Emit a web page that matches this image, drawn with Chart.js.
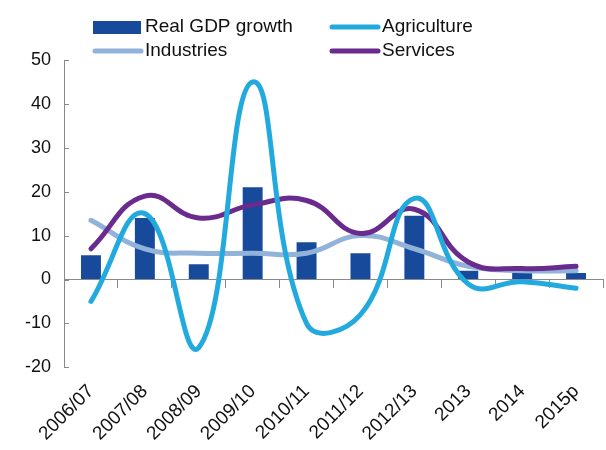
<!DOCTYPE html>
<html>
<head>
<meta charset="utf-8">
<script src="https://cdn.jsdelivr.net/npm/chart.js@4"></script>
<style>
  html, body { margin: 0; padding: 0; background: #fff; }
  #wrap { width: 606px; height: 450px; }
</style>
</head>
<body>
<div id="wrap"><canvas id="gdpChart"></canvas></div>
<script>
const years = ['2006/07', '2007/08', '2008/09', '2009/10', '2010/11', '2011/12', '2012/13', '2013', '2014', '2015p'];
const realGdp = [5.5, 14, 3.5, 21, 8.5, 6, 14.5, 2, 1.5, 1.5];
const agriculture = [-5, 15, -15.5, 45, -10, -8, 18.5, -1, -0.5, -2];
const industries = [13.5, 7, 6, 6, 6, 10, 7, 3, 2, 2];
const services = [7, 19, 14, 17, 18, 10.5, 16, 4, 2.5, 3];
const yTicks = [-20, -10, 0, 10, 20, 30, 40, 50];

const FONT = 'Liberation Sans, Arial, sans-serif';

// two-column legend above the plot
const legendPlugin = {
    id: 'twoColLegend',
    afterDraw(chart) {
        const ctx = chart.ctx;
        const cols = [93, 330];
        const rows = [27, 51];
        ctx.save();
        ctx.font = '19px ' + FONT;
        ctx.textBaseline = 'middle';
        chart.data.datasets.forEach((ds, i) => {
            const x = cols[i % 2];
            const y = rows[Math.floor(i / 2)];
            if (ds.type === 'bar') {
                ctx.fillStyle = ds.backgroundColor;
                ctx.fillRect(x, y - 6, 48, 13);
            } else {
                ctx.strokeStyle = ds.borderColor;
                ctx.lineWidth = 5;
                ctx.lineCap = 'round';
                ctx.beginPath();
                ctx.moveTo(x + 2, y);
                ctx.lineTo(x + 48, y);
                ctx.stroke();
            }
            ctx.fillStyle = '#111';
            ctx.fillText(ds.label, x + 52, y);
        });
        ctx.restore();
    }
};

// short inward tick marks on the value axis
const yTickPlugin = {
    id: 'innerYTicks',
    afterDatasetsDraw(chart) {
        const ctx = chart.ctx;
        const y = chart.scales.y;
        ctx.save();
        ctx.strokeStyle = '#8a8a8a';
        ctx.lineWidth = 1;
        yTicks.forEach(v => {
            const py = Math.round(y.getPixelForValue(v)) + 0.5;
            ctx.beginPath();
            ctx.moveTo(y.right, py);
            ctx.lineTo(y.right + 5, py);
            ctx.stroke();
        });
        ctx.restore();
    }
};

const lineStyle = {
    type: 'line',
    borderWidth: 5,
    pointRadius: 0,
    tension: 0.45,
    borderCapStyle: 'round',
    fill: false
};

new Chart(document.getElementById('gdpChart').getContext('2d'), {
    data: {
        labels: years,
        datasets: [
            { type: 'bar', label: 'Real GDP growth', data: realGdp, backgroundColor: '#174a9b',
              barPercentage: 0.37, categoryPercentage: 1, order: 4 },
            Object.assign({ label: 'Agriculture', data: agriculture, borderColor: '#22aade', order: 1 }, lineStyle),
            Object.assign({ label: 'Industries', data: industries, borderColor: '#91b2d9', order: 3 }, lineStyle),
            Object.assign({ label: 'Services', data: services, borderColor: '#6a2b8f', order: 2 }, lineStyle)
        ]
    },
    options: {
        responsive: true,
        maintainAspectRatio: false,
        animation: false,
        layout: { padding: { top: 60, right: 3, left: 12, bottom: 0 } },
        plugins: { legend: { display: false }, tooltip: { enabled: false } },
        scales: {
            x: {
                offset: true,
                grid: { display: false },
                border: { display: false },
                ticks: { color: '#111', font: { family: FONT, size: 19 }, minRotation: 45, maxRotation: 45, padding: 5 }
            },
            x2: {
                type: 'category',
                position: { y: 0 },
                offset: true,
                grid: { offset: true, drawOnChartArea: false, drawTicks: true, tickLength: 8, color: '#8a8a8a' },
                border: { display: true, color: '#8a8a8a' },
                ticks: { display: false }
            },
            y: {
                min: -20,
                max: 50,
                afterBuildTicks: axis => { axis.ticks = yTicks.map(v => ({ value: v })); },
                grid: { drawOnChartArea: false, drawTicks: false },
                border: { display: true, color: '#8a8a8a' },
                ticks: { color: '#111', font: { family: FONT, size: 18 }, padding: 13 }
            }
        }
    },
    plugins: [legendPlugin, yTickPlugin]
});
</script>
</body>
</html>
